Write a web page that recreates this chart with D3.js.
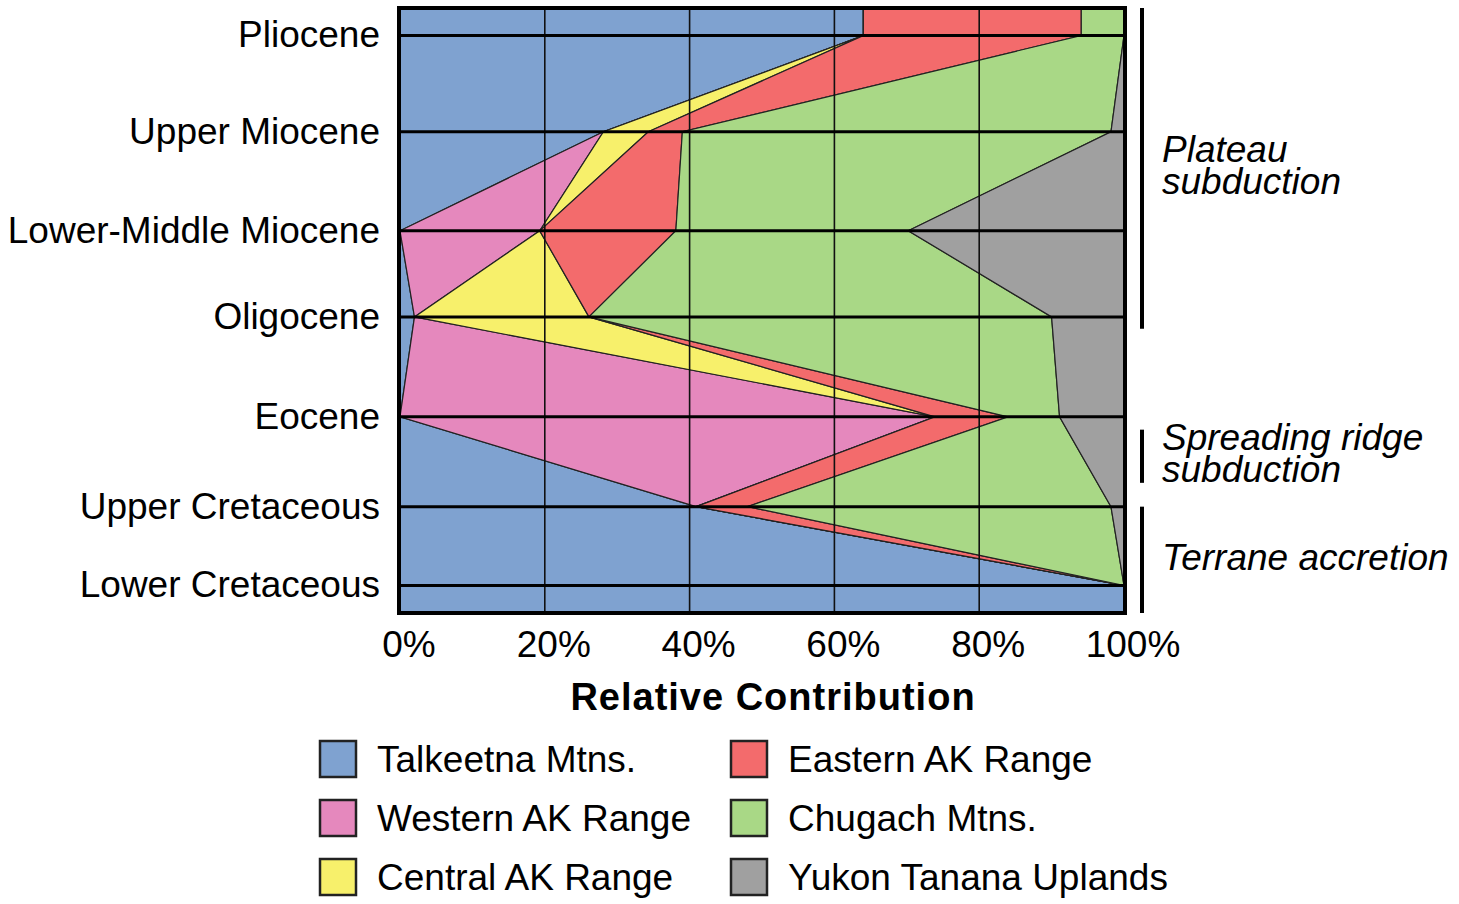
<!DOCTYPE html>
<html>
<head>
<meta charset="utf-8">
<script src="https://cdn.jsdelivr.net/npm/d3@7"></script>
<style>
  body { margin: 0; background: #fff; }
  svg text { font-family: "Liberation Sans", Arial, sans-serif; fill: #000; }
</style>
</head>
<body>
<svg id="chart" width="1459" height="904"></svg>
<script>
// eras, top to bottom, and their row level (rows are not evenly spaced in the figure)
const eras = ["Pliocene", "Upper Miocene", "Lower-Middle Miocene", "Oligocene", "Eocene", "Upper Cretaceous", "Lower Cretaceous"];
const eraRowLevel = [0, 1.05, 2.13, 3.07, 4.16, 5.14, 6];

const sources = ["Talkeetna Mtns.", "Western AK Range", "Central AK Range", "Eastern AK Range", "Chugach Mtns.", "Yukon Tanana Uplands"];

// relative contribution (%) per era
const talkeetna = [64.0, 28.1, 0, 2.0, 0, 40.9, 100];
const westernAK = [0, 0, 19.3, 0, 73.9, 0, 0];
const centralAK = [0, 6.2, 0, 24.1, 0, 0, 0];
const easternAK = [30.1, 4.7, 18.8, 0, 10.1, 7.1, 0];
const chugach = [5.9, 59.2, 32.1, 63.9, 7.1, 50.2, 0];
const yukon = [0, 1.8, 29.8, 10.0, 8.9, 1.8, 0];

const xTicks = [0, 20, 40, 60, 80, 100];

// tectonic setting, spans given in row levels
const phases = [
    {name: ["Plateau", "subduction"], from: -0.3, to: 3.2},
    {name: ["Spreading ridge", "subduction"], from: 4.3, to: 4.88},
    {name: ["Terrane accretion"], from: 5.14, to: 6.3}
];

const colors = ["#7fa2d0", "#e588bd", "#f7f06b", "#f36b6c", "#a9d886", "#a0a0a0"];

const series = [talkeetna, westernAK, centralAK, easternAK, chugach, yukon];

const table = eras.map((era, i) => {
    const row = {era: era, level: eraRowLevel[i]};
    sources.forEach((s, j) => row[s] = series[j][i]);
    return row;
});

const svg = d3.select("#chart");

const plotLeft = 400, plotRight = 1124, plotTop = 8, plotBottom = 613;
const levelPad = 0.3;

const x = d3.scaleLinear().domain([0, 100]).range([plotLeft, plotRight]);
const y = d3.scaleLinear()
    .domain([eraRowLevel[0] - levelPad, eraRowLevel[eraRowLevel.length - 1] + levelPad])
    .range([plotTop, plotBottom]);

// stretch first and last era to the frame edges
const padded = [Object.assign({}, table[0], {level: y.domain()[0]})]
    .concat(table)
    .concat([Object.assign({}, table[table.length - 1], {level: y.domain()[1]})]);

const stacked = d3.stack().keys(sources)(padded);

const area = d3.area()
    .y(d => y(d.data.level))
    .x0(d => x(d[0]))
    .x1(d => x(d[1]));

// Draw the areas
svg.append("g")
    .selectAll("path")
    .data(stacked)
    .join("path")
    .attr("d", area)
    .attr("fill", (d, i) => colors[i])
    .attr("stroke", "#222")
    .attr("stroke-width", 1.2)
    .attr("stroke-linejoin", "miter");

// vertical grid
svg.append("g")
    .selectAll("line")
    .data(xTicks.slice(1, -1))
    .join("line")
    .attr("x1", d => x(d))
    .attr("x2", d => x(d))
    .attr("y1", plotTop)
    .attr("y2", plotBottom)
    .attr("stroke", "#111")
    .attr("stroke-width", 1.6);

// era row lines
svg.append("g")
    .selectAll("line")
    .data(table)
    .join("line")
    .attr("x1", plotLeft)
    .attr("x2", plotRight)
    .attr("y1", d => y(d.level))
    .attr("y2", d => y(d.level))
    .attr("stroke", "#000")
    .attr("stroke-width", 3);

// frame
svg.append("rect")
    .attr("x", plotLeft - 1)
    .attr("y", plotTop)
    .attr("width", plotRight - plotLeft + 2)
    .attr("height", plotBottom - plotTop)
    .attr("fill", "none")
    .attr("stroke", "#000")
    .attr("stroke-width", 4);

// era labels
svg.append("g")
    .selectAll("text")
    .data(table)
    .join("text")
    .attr("x", plotLeft - 20)
    .attr("y", d => y(d.level) - 1)
    .attr("dy", "0.35em")
    .attr("text-anchor", "end")
    .style("font-size", "37px")
    .text(d => d.era);

// x tick labels
svg.append("g")
    .selectAll("text")
    .data(xTicks)
    .join("text")
    .attr("x", d => x(d) + 9)
    .attr("y", 657)
    .attr("text-anchor", "middle")
    .style("font-size", "37px")
    .text(d => d + "%");

svg.append("text")
    .attr("x", 773)
    .attr("y", 710)
    .attr("text-anchor", "middle")
    .style("font-size", "38px")
    .style("font-weight", "bold")
    .style("letter-spacing", "1px")
    .text("Relative Contribution");

// tectonic phase bars
const phase = svg.append("g");
phase.selectAll("line")
    .data(phases)
    .join("line")
    .attr("x1", 1142)
    .attr("x2", 1142)
    .attr("y1", d => y(d.from))
    .attr("y2", d => y(d.to))
    .attr("stroke", "#000")
    .attr("stroke-width", 4);

phase.selectAll("text")
    .data(phases)
    .join("text")
    .attr("x", 1162)
    .attr("y", d => {
        const mid = (y(d.from) + y(d.to)) / 2;
        return mid - (d.name.length - 1) * 16 + 10;
    })
    .style("font-size", "37px")
    .style("font-style", "italic")
    .selectAll("tspan")
    .data(d => d.name)
    .join("tspan")
    .attr("x", 1162)
    .attr("dy", (d, i) => i === 0 ? 0 : 32)
    .text(d => d);

// legend
const legend = svg.append("g")
    .selectAll("g")
    .data(sources)
    .join("g")
    .attr("transform", (d, i) => `translate(${i < 3 ? 320 : 731},${741 + (i % 3) * 59})`);

legend.append("rect")
    .attr("width", 36)
    .attr("height", 36)
    .attr("fill", (d, i) => colors[i])
    .attr("stroke", "#222")
    .attr("stroke-width", 2.5);

legend.append("text")
    .attr("x", 57)
    .attr("y", 18)
    .attr("dy", "0.35em")
    .style("font-size", "37px")
    .text(d => d);
</script>
</body>
</html>
